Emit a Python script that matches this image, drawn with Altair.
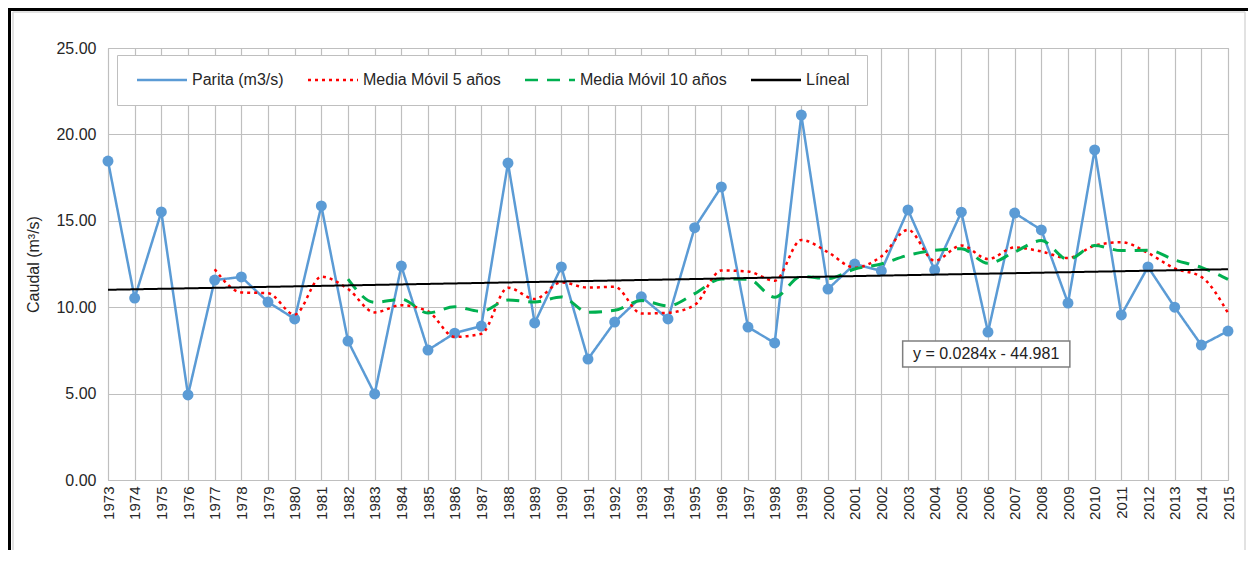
import altair as alt
import pandas as pd

years = [1973, 1974, 1975, 1976, 1977, 1978, 1979, 1980, 1981, 1982,
         1983, 1984, 1985, 1986, 1987, 1988, 1989, 1990, 1991, 1992,
         1993, 1994, 1995, 1996, 1997, 1998, 1999, 2000, 2001, 2002,
         2003, 2004, 2005, 2006, 2007, 2008, 2009, 2010, 2011, 2012,
         2013, 2014, 2015]
caudal = [18.46, 10.53, 15.51, 4.92, 11.57, 11.75, 10.30, 9.32, 15.86, 8.04,
          4.98, 12.38, 7.52, 8.50, 8.91, 18.34, 9.09, 12.33, 7.00, 9.14,
          10.60, 9.32, 14.60, 16.96, 8.85, 7.93, 21.12, 11.05, 12.50, 12.10,
          15.63, 12.15, 15.50, 8.56, 15.45, 14.47, 10.24, 19.10, 9.55, 12.33,
          10.00, 7.81, 8.62]
y_ticks = [0, 5, 10, 15, 20, 25]
series_names = ["Parita (m3/s)", "Media Móvil 5 años", "Media Móvil 10 años", "Líneal"]
series_colors = ["#5B9BD5", "#FF0000", "#00B050", "#000000"]
series_dash = [[1, 0], [3, 4], [13, 9], [1, 0]]
eq_text = "y = 0.0284x - 44.981"

df = pd.DataFrame({"Año": years, "Caudal": caudal})

FONT = "Liberation Sans"

x_enc = alt.X("Año:Q",
              scale=alt.Scale(domain=[years[0], years[-1]], nice=False, zero=False),
              axis=alt.Axis(values=years, format="d", labelAngle=270, title=None,
                            labelPadding=6, labelFontSize=15, labelFlush=False,
                            labelOverlap=False))
y_enc = alt.Y("Caudal:Q",
              scale=alt.Scale(domain=[0, 25], nice=False),
              axis=alt.Axis(values=y_ticks, format=".2f", title="Caudal (m³/s)",
                            labelFontSize=16, labelPadding=12, titleFontSize=16,
                            titleFontWeight="normal", titlePadding=14,
                            labelFlush=False))
color_enc = alt.Color("serie:N",
                      scale=alt.Scale(domain=series_names, range=series_colors),
                      legend=alt.Legend(title=None))
dash_enc = alt.StrokeDash("serie:N",
                          scale=alt.Scale(domain=series_names, range=series_dash),
                          legend=alt.Legend(title=None))

base = alt.Chart(df)

parita = base.transform_calculate(
    serie="'" + series_names[0] + "'"
).mark_line(
    strokeWidth=2.5,
    point=alt.OverlayMarkDef(filled=True, size=120, opacity=1, color=series_colors[0])
).encode(x=x_enc, y=y_enc, color=color_enc, strokeDash=dash_enc)

ma5 = base.transform_window(
    ma="mean(Caudal)", n="count()", frame=[-4, 0], sort=[alt.SortField("Año")]
).transform_filter("datum.n >= 5").transform_calculate(
    Caudal="datum.ma", serie="'" + series_names[1] + "'"
).mark_line(strokeWidth=2.5, interpolate="monotone").encode(
    x=x_enc, y=y_enc, color=color_enc, strokeDash=dash_enc)

ma10 = base.transform_window(
    ma="mean(Caudal)", n="count()", frame=[-9, 0], sort=[alt.SortField("Año")]
).transform_filter("datum.n >= 10").transform_calculate(
    Caudal="datum.ma", serie="'" + series_names[2] + "'"
).mark_line(strokeWidth=3, interpolate="monotone").encode(
    x=x_enc, y=y_enc, color=color_enc, strokeDash=dash_enc)

trend = base.transform_regression("Año", "Caudal").transform_calculate(
    serie="'" + series_names[3] + "'"
).mark_line(strokeWidth=2).encode(
    x=x_enc, y=y_enc, color=color_enc, strokeDash=dash_enc)

# equation label box (data-unit placement of the annotation)
box_df = pd.DataFrame({"Año": [2002.8], "Año_fin": [2009.07],
                       "Caudal": [6.54], "Caudal_fin": [8.04]})
txt_df = pd.DataFrame({"Año": [2005.93], "Caudal": [7.29], "t": [eq_text]})
ann_box = alt.Chart(box_df).mark_rect(fill="white", stroke="#7f7f7f", strokeWidth=1.5).encode(
    x=x_enc, x2="Año_fin:Q", y=y_enc, y2="Caudal_fin:Q")
ann_text = alt.Chart(txt_df).mark_text(font=FONT, fontSize=16, color="#222").encode(
    x=x_enc, y=y_enc, text="t:N")

# chart-area frame (decoration around the whole figure)
frame_df = pd.DataFrame({"k": [0]})
frame_left = alt.Chart(frame_df).mark_rule(color="black", strokeWidth=3).encode(
    x=alt.value(-98.5), y=alt.value(-40), y2=alt.value(520))
frame_top = alt.Chart(frame_df).mark_rule(color="black", strokeWidth=3).encode(
    x=alt.value(-100), x2=alt.value(1140), y=alt.value(-38.5))
inner_left = alt.Chart(frame_df).mark_rule(color="#d9d9d9", strokeWidth=1.5).encode(
    x=alt.value(-95), y=alt.value(-36), y2=alt.value(520))
inner_top = alt.Chart(frame_df).mark_rule(color="#d9d9d9", strokeWidth=1.5).encode(
    x=alt.value(-95), x2=alt.value(1137), y=alt.value(-36))
inner_right = alt.Chart(frame_df).mark_rule(color="#d9d9d9", strokeWidth=1.5).encode(
    x=alt.value(1137), y=alt.value(-36), y2=alt.value(520))

chart = alt.layer(
    frame_left, frame_top, inner_left, inner_top, inner_right,
    parita, ma5, ma10, trend, ann_box, ann_text
).properties(
    width=1120, height=432,
    autosize=alt.AutoSizeParams(type="none"),
    padding={"left": 100, "top": 40, "right": 20, "bottom": 70},
    background="white",
).configure_view(
    stroke="#bfbfbf", strokeWidth=1
).configure_axis(
    gridColor="#bfbfbf", gridWidth=1.2, domain=False, ticks=False,
    labelFont=FONT, titleFont=FONT, labelColor="#262626", titleColor="#262626"
).configure_legend(
    orient="none", legendX=9, legendY=7, direction="horizontal",
    fillColor="white", strokeColor="#bfbfbf", padding=17,
    labelFont=FONT, labelFontSize=16, labelColor="#262626",
    symbolType="M-1,0H9", symbolSize=100, symbolStrokeWidth=2.5,
    columnPadding=19, labelOffset=42,
)

chart.save("out.html", embed_options={"renderer": "svg", "actions": False})
